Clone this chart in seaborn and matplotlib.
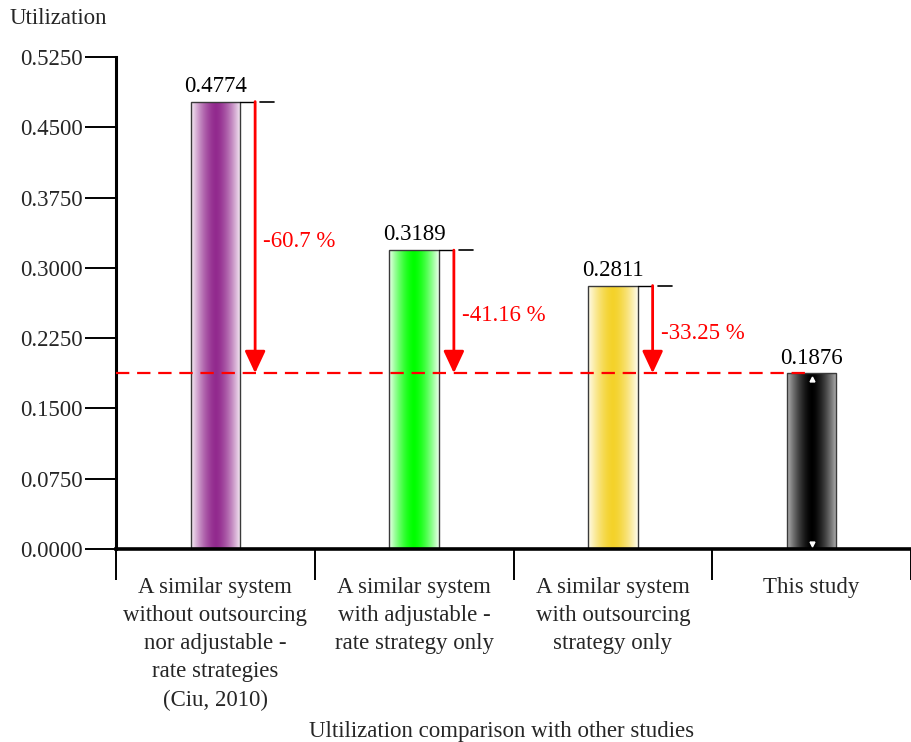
import numpy as np
import pandas as pd
import seaborn as sns
import matplotlib.pyplot as plt
from matplotlib.colors import to_rgb

# ---- data ----
categories = [
    "A similar system\nwithout outsourcing\nnor adjustable -\nrate strategies\n(Ciu, 2010)",
    "A similar system\nwith adjustable -\nrate strategy only",
    "A similar system\nwith outsourcing\nstrategy only",
    "This study",
]
utilization = [0.4774, 0.3189, 0.2811, 0.1876]
reductions = ["-60.7 %", "-41.16 %", "-33.25 %"]
y_ticks = [0.0, 0.075, 0.15, 0.225, 0.30, 0.375, 0.45, 0.525]

center_colors = ["#922a8e", "#00ff00", "#f4d22a", "#000000"]
edge_colors = ["#f8f0f7", "#eeffee", "#fffcee", "#b4b4b4"]

FS = 16.5

sns.set_theme(style="white")
plt.rcParams["font.family"] = ["Liberation Serif", "DejaVu Serif"]
plt.rcParams["font.size"] = FS

fig = plt.figure(figsize=(9.11, 7.42), dpi=100)
ax = fig.add_axes([116 / 911, 193 / 742, 795 / 911, 492 / 742])

df = pd.DataFrame({"study": categories, "utilization": utilization})
sns.barplot(data=df, x="study", y="utilization", hue="study",
            palette=center_colors, legend=False, width=0.25,
            edgecolor="#3a3a3a", linewidth=1.0, ax=ax)

# horizontal gradient fill inside each bar: pale at the edges, saturated in the middle
t = np.linspace(-1, 1, 256)
w_profile = np.clip(np.abs(t), 0, 1) ** 1.6
for patch, cc, ec in zip(ax.patches, center_colors, edge_colors):
    x0, y0 = patch.get_x(), patch.get_y()
    w, h = patch.get_width(), patch.get_height()
    c1, c2 = np.array(to_rgb(cc)), np.array(to_rgb(ec))
    grad = (1 - w_profile)[:, None] * c1 + w_profile[:, None] * c2
    im = ax.imshow(grad[None, :, :], extent=[x0, x0 + w, y0, y0 + h],
                   aspect="auto", interpolation="bilinear", zorder=1.5)
    im.set_clip_path(patch)
    patch.set_facecolor("none")
    patch.set_zorder(2)

base = utilization[-1]

# reference line at this study's utilization
ax.plot([-0.5, 3.0], [base, base], color="#ff0000", lw=1.6,
        ls=(0, (6, 3.5)), zorder=3)

# value labels above bars
for i, v in enumerate(utilization):
    ax.text(i, v + 0.005, f"{v:.4f}", ha="center", va="bottom",
            fontsize=FS, color="black", zorder=4)

# reduction arrows with brackets
for i, (v, lab) in enumerate(zip(utilization[:-1], reductions)):
    ax.plot([i + 0.125, i + 0.197], [v, v], color="black", lw=1.0, zorder=3)
    ax.plot([i + 0.226, i + 0.296], [v, v], color="black", lw=1.2, zorder=3)
    ax.annotate("", xy=(i + 0.2, base), xytext=(i + 0.2, v),
                arrowprops=dict(arrowstyle="-|>,head_length=0.9,head_width=0.42",
                                color="#ff0000", lw=2.0, mutation_scale=15,
                                shrinkA=0, shrinkB=0), zorder=4)
    ax.text(i + 0.24, (v + base) / 2 - 0.004, lab, ha="left", va="center",
            color="#ff0000", fontsize=FS, zorder=4)

# small white markers on the last bar
ax.plot([3], [base - 0.006], marker="^", color="white", ms=3.5, zorder=3)
ax.plot([3], [0.005], marker="v", color="white", ms=3.5, zorder=3)

ax.set_xlim(-0.5, 3.455)
ax.set_ylim(0, 0.525)
ax.set_xlabel("")
ax.set_ylabel("")

ax.set_yticks(y_ticks)
ax.set_yticklabels([f"{v:.4f}" for v in y_ticks])
ax.tick_params(axis="y", direction="out", length=22, width=1.4,
               color="black", pad=2, labelsize=FS, left=True)

ax.set_xticks(range(len(categories)))
ax.set_xticklabels(categories, linespacing=1.45)
ax.set_xticks([-0.5, 0.5, 1.5, 2.5, 3.5], minor=True)
ax.tick_params(axis="x", which="major", length=0, pad=20, labelsize=FS)
ax.tick_params(axis="x", which="minor", direction="out", length=22,
               width=1.4, color="black", bottom=True)
for lbl in ax.get_xticklabels():
    lbl.set_horizontalalignment("center")
    lbl.set_verticalalignment("top")

for side in ["top", "right"]:
    ax.spines[side].set_visible(False)
ax.spines["left"].set_linewidth(2.2)
ax.spines["left"].set_color("black")
ax.spines["bottom"].set_linewidth(2.6)
ax.spines["bottom"].set_color("black")
ax.grid(False)

fig.text(10 / 911, 1 - 19 / 742, "Utilization", ha="left", va="center",
         fontsize=FS)
fig.text(502 / 911, 1 - 731 / 742, "Ultilization comparison with other studies",
         ha="center", va="center", fontsize=FS)

fig.savefig("out.png", dpi=100, facecolor="white")
